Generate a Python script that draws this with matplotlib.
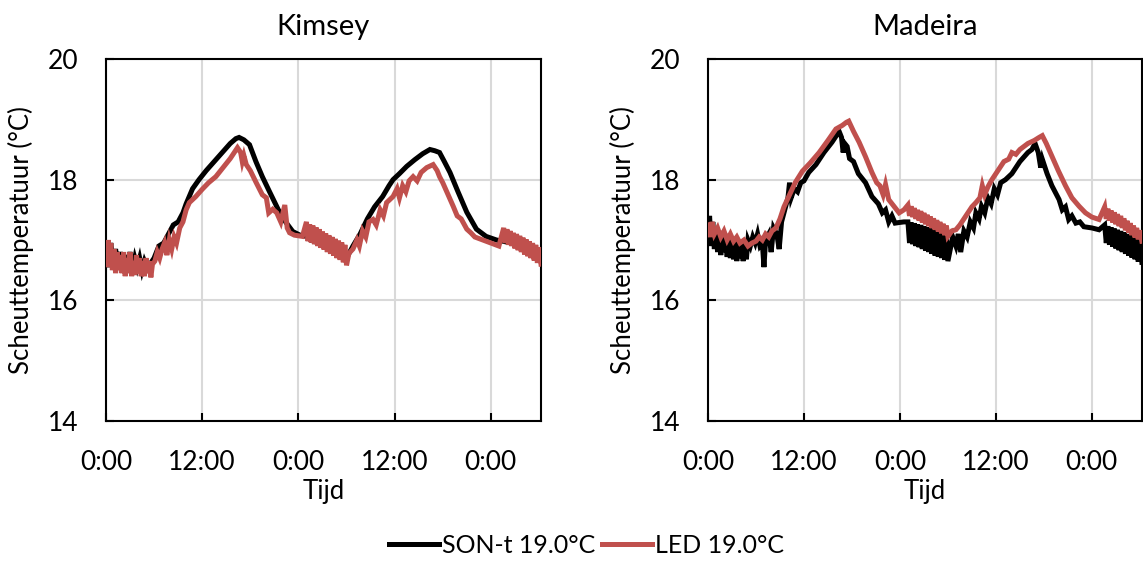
import numpy as np
import matplotlib
matplotlib.use("Agg")
import matplotlib.pyplot as plt

plt.rcParams['font.family'] = ['Lato', 'DejaVu Sans']

panel_titles = ["Kimsey", "Madeira"]
series_labels = ["SON-t 19.0°C", "LED 19.0°C"]
tick_hours = [0, 12, 24, 36, 48]
tick_labels = ["0:00", "12:00", "0:00", "12:00", "0:00"]

# (hour, temperature) pairs
kimsey_son = [
    (0.0, 16.85), (0.3, 16.55), (0.6, 16.95), (0.9, 16.6), (1.2, 16.85), (1.5, 16.55),
    (1.8, 16.8), (2.1, 16.5), (2.4, 16.75), (2.7, 16.55), (3.0, 16.8), (3.3, 16.5),
    (3.6, 16.7), (3.9, 16.55), (4.2, 16.7), (4.5, 16.5), (4.8, 16.65), (5.1, 16.55),
    (5.5, 16.6), (6.0, 16.7), (6.6, 16.9), (7.2, 16.95), (7.8, 17.1), (8.4, 17.25),
    (9.0, 17.3), (9.6, 17.45), (10.0, 17.6), (10.8, 17.85), (11.6, 18.0), (12.5, 18.15),
    (13.5, 18.3), (14.5, 18.45), (15.5, 18.6), (16.2, 18.68), (16.6, 18.7), (17.2, 18.66),
    (17.9, 18.58), (18.7, 18.3), (19.5, 18.05), (20.4, 17.8), (21.5, 17.5), (22.4, 17.3),
    (23.3, 17.14), (24.2, 17.08), (25.0, 17.06), (25.5, 17.0), (26.5, 16.95), (27.5, 16.88),
    (28.5, 16.8), (29.5, 16.72), (30.0, 16.7), (30.8, 16.9), (31.7, 17.1), (32.6, 17.35),
    (33.5, 17.55), (34.5, 17.72), (35.3, 17.9), (35.8, 18.0), (36.6, 18.1), (37.5, 18.22),
    (38.5, 18.33), (39.5, 18.43), (40.4, 18.5), (41.0, 18.48), (41.6, 18.45), (42.2, 18.3),
    (42.9, 18.12), (43.9, 17.8), (45.0, 17.46), (46.2, 17.18), (47.4, 17.06), (48.7, 17.0),
    (49.5, 16.98), (50.5, 16.95), (51.5, 16.9), (52.5, 16.82), (53.5, 16.75), (54.25, 16.7),
]

kimsey_led = [
    (0.0, 16.75), (0.15, 16.55), (0.3, 17.0), (0.45, 16.6), (0.6, 16.95), (0.8, 16.5),
    (1.0, 16.85), (1.2, 16.45), (1.4, 16.8), (1.6, 16.5), (1.8, 16.75), (2.0, 16.45),
    (2.2, 16.8), (2.4, 16.4), (2.6, 16.7), (2.8, 16.45), (3.0, 16.8), (3.2, 16.4),
    (3.4, 16.65), (3.6, 16.42), (3.8, 16.75), (4.0, 16.45), (4.2, 16.7), (4.4, 16.4),
    (4.6, 16.65), (4.8, 16.4), (5.0, 16.7), (5.2, 16.45), (5.4, 16.65), (5.6, 16.38),
    (5.8, 16.6), (6.1, 16.65), (6.4, 16.8), (6.7, 16.7), (7.0, 16.85), (7.3, 16.95),
    (7.6, 16.75), (7.9, 17.0), (8.2, 16.85), (8.5, 17.05), (8.8, 16.95), (9.2, 17.2),
    (9.6, 17.3), (10.0, 17.5), (10.4, 17.62), (11.2, 17.72), (12.0, 17.84), (12.8, 17.95),
    (13.7, 18.05), (14.6, 18.2), (15.5, 18.35), (16.0, 18.45), (16.4, 18.53), (16.8, 18.45),
    (17.0, 18.3), (17.2, 18.4), (17.5, 18.25), (18.0, 18.15), (18.7, 17.96), (19.5, 17.75),
    (20.0, 17.7), (20.3, 17.45), (20.8, 17.51), (21.3, 17.45), (21.8, 17.3), (22.3, 17.58),
    (22.6, 17.2), (22.9, 17.12), (23.5, 17.08), (24.5, 17.06),
    (25.0, 17.30), (25.2, 16.98), (25.4, 17.26), (25.6, 16.96), (25.8, 17.24), (26.0, 16.93),
    (26.2, 17.21), (26.4, 16.90), (26.6, 17.18), (26.8, 16.87), (27.0, 17.14), (27.2, 16.84),
    (27.4, 17.11), (27.6, 16.80), (27.8, 17.08), (28.0, 16.77), (28.2, 17.05), (28.4, 16.74),
    (28.6, 17.02), (28.8, 16.70), (29.0, 16.99), (29.2, 16.67), (29.4, 16.96), (29.6, 16.63),
    (29.8, 16.92), (30.0, 16.58),
    (30.3, 16.78), (30.8, 16.85), (31.3, 17.0), (31.6, 16.9), (32.0, 17.15), (32.4, 17.05),
    (32.8, 17.3), (33.3, 17.34), (33.7, 17.25), (34.2, 17.5), (34.6, 17.4), (35.0, 17.62),
    (35.8, 17.72), (36.3, 17.85), (36.6, 17.7), (37.0, 17.9), (37.4, 17.8), (37.8, 17.98),
    (38.3, 18.05), (38.8, 17.98), (39.3, 18.12), (40.0, 18.2), (40.8, 18.25), (41.3, 18.15),
    (41.6, 18.05), (42.0, 17.95), (42.5, 17.8), (43.0, 17.65), (43.3, 17.56), (43.8, 17.4),
    (44.3, 17.35), (45.0, 17.18), (45.5, 17.12), (46.0, 17.05), (47.0, 17.0), (48.0, 16.95),
    (49.0, 16.9),
    (49.6, 17.20), (49.8, 16.95), (50.0, 17.18), (50.2, 16.92), (50.4, 17.15), (50.6, 16.90),
    (50.8, 17.12), (51.0, 16.86), (51.2, 17.10), (51.4, 16.83), (51.6, 17.07), (51.8, 16.80),
    (52.0, 17.04), (52.2, 16.76), (52.4, 17.01), (52.6, 16.73), (52.8, 16.98), (53.0, 16.70),
    (53.2, 16.95), (53.4, 16.66), (53.6, 16.92), (53.8, 16.62), (54.0, 16.88), (54.25, 16.6),
]

madeira_son = [
    (0.0, 17.0), (0.2, 17.4), (0.4, 16.9), (0.6, 17.3), (0.8, 16.85), (1.0, 17.2),
    (1.2, 16.8), (1.4, 17.15), (1.6, 16.75), (1.8, 17.1), (2.0, 16.8), (2.2, 17.05),
    (2.4, 16.72), (2.6, 17.1), (2.8, 16.7), (3.0, 17.0), (3.2, 16.68), (3.4, 17.05),
    (3.6, 16.65), (3.8, 17.0), (4.0, 16.7), (4.2, 16.95), (4.4, 16.65), (4.6, 16.95),
    (4.8, 16.68), (5.0, 17.0), (5.3, 16.9), (5.6, 17.05), (5.9, 16.95), (6.2, 17.1),
    (6.5, 16.9), (6.8, 16.95), (7.0, 16.55), (7.2, 17.0), (7.6, 17.1), (7.9, 16.8),
    (8.2, 17.2), (8.6, 17.1), (8.9, 16.85), (9.2, 17.3), (9.6, 17.5), (10.0, 17.7),
    (10.2, 17.95), (10.4, 17.7), (10.8, 17.85), (11.2, 17.8), (11.6, 17.95), (12.0, 17.98),
    (12.6, 18.12), (13.5, 18.25), (14.5, 18.45), (15.5, 18.62), (16.0, 18.72), (16.4, 18.8),
    (16.7, 18.7), (16.9, 18.45), (17.1, 18.6), (17.4, 18.55), (17.7, 18.35), (18.2, 18.3),
    (18.8, 18.1), (19.7, 17.95), (20.5, 17.72), (21.3, 17.6), (21.8, 17.45), (22.2, 17.5),
    (22.6, 17.3), (23.0, 17.4), (23.4, 17.28), (23.9, 17.29), (24.5, 17.3),
    (25.0, 17.30), (25.2, 16.95), (25.4, 17.29), (25.6, 16.93), (25.8, 17.28), (26.0, 16.90),
    (26.2, 17.26), (26.4, 16.88), (26.6, 17.25), (26.8, 16.85), (27.0, 17.23), (27.2, 16.82),
    (27.4, 17.21), (27.6, 16.80), (27.8, 17.19), (28.0, 16.77), (28.2, 17.17), (28.4, 16.74),
    (28.6, 17.15), (28.8, 16.72), (29.0, 17.14), (29.2, 16.70), (29.4, 17.12), (29.6, 16.67),
    (29.8, 17.10), (30.0, 16.65),
    (30.3, 16.85), (30.6, 17.05), (31.0, 16.9), (31.3, 17.1), (31.6, 16.8), (32.0, 17.15),
    (32.4, 17.05), (32.8, 17.3), (33.2, 17.2), (33.5, 17.45), (33.9, 17.35), (34.2, 17.56),
    (34.6, 17.45), (35.0, 17.7), (35.4, 17.6), (35.8, 17.85), (36.2, 17.75), (36.6, 17.95),
    (37.2, 18.0), (38.0, 18.1), (39.0, 18.3), (40.0, 18.45), (40.5, 18.5), (40.9, 18.6),
    (41.3, 18.45), (41.6, 18.2), (41.8, 18.34), (42.4, 18.1), (43.0, 17.9), (43.9, 17.67),
    (44.3, 17.5), (44.7, 17.55), (45.1, 17.34), (45.5, 17.4), (46.0, 17.28), (46.5, 17.3),
    (47.0, 17.22), (48.0, 17.2), (48.9, 17.17),
    (49.6, 17.25), (49.8, 16.95), (50.0, 17.23), (50.2, 16.92), (50.4, 17.21), (50.6, 16.89),
    (50.8, 17.19), (51.0, 16.86), (51.2, 17.17), (51.4, 16.83), (51.6, 17.15), (51.8, 16.80),
    (52.0, 17.13), (52.2, 16.77), (52.4, 17.10), (52.6, 16.74), (52.8, 17.08), (53.0, 16.71),
    (53.2, 17.05), (53.4, 16.68), (53.6, 17.03), (53.8, 16.64), (54.0, 17.00), (54.25, 16.63),
]

madeira_led = [
    (0.0, 17.25), (0.3, 17.05), (0.5, 17.3), (0.8, 17.1), (1.2, 17.2), (1.6, 17.05),
    (2.0, 17.15), (2.4, 17.0), (2.8, 17.1), (3.2, 16.98), (3.6, 17.05), (4.0, 16.95),
    (4.5, 17.0), (5.0, 16.9), (5.5, 16.95), (6.0, 16.98), (6.4, 17.05), (6.8, 17.0),
    (7.2, 17.1), (7.6, 17.05), (8.0, 17.15), (8.5, 17.2), (9.0, 17.35), (9.5, 17.55),
    (10.1, 17.72), (10.9, 17.95), (11.8, 18.14), (12.8, 18.28), (13.9, 18.45), (15.0, 18.65),
    (16.0, 18.84), (16.8, 18.9), (17.3, 18.95), (17.6, 18.97), (18.2, 18.8), (18.9, 18.62),
    (19.7, 18.38), (20.5, 18.12), (21.1, 17.95), (21.5, 17.9), (21.9, 17.75), (22.2, 17.92),
    (22.6, 17.67), (23.3, 17.55), (23.9, 17.45), (24.5, 17.5),
    (25.0, 17.58), (25.2, 17.40), (25.4, 17.56), (25.6, 17.38), (25.8, 17.53), (26.0, 17.35),
    (26.2, 17.50), (26.4, 17.32), (26.6, 17.48), (26.8, 17.29), (27.0, 17.45), (27.2, 17.26),
    (27.4, 17.42), (27.6, 17.23), (27.8, 17.39), (28.0, 17.20), (28.2, 17.36), (28.4, 17.17),
    (28.6, 17.33), (28.8, 17.14), (29.0, 17.30), (29.2, 17.11), (29.4, 17.27), (29.6, 17.08),
    (29.8, 17.24), (30.0, 17.06),
    (30.5, 17.15), (31.0, 17.17), (31.5, 17.25), (32.0, 17.35), (32.5, 17.45), (33.0, 17.55),
    (33.5, 17.62), (34.0, 17.7), (34.3, 17.9), (34.6, 17.75), (35.0, 17.88), (35.5, 18.0),
    (36.0, 18.1), (36.5, 18.2), (37.0, 18.3), (37.6, 18.34), (38.0, 18.45), (38.5, 18.42),
    (39.0, 18.5), (39.5, 18.55), (40.0, 18.6), (40.8, 18.65), (41.4, 18.7), (41.8, 18.73),
    (42.3, 18.6), (43.0, 18.39), (43.8, 18.15), (44.7, 17.9), (45.5, 17.7), (46.4, 17.56),
    (47.2, 17.45), (48.0, 17.38), (48.9, 17.34),
    (49.6, 17.55), (49.8, 17.35), (50.0, 17.52), (50.2, 17.32), (50.4, 17.49), (50.6, 17.29),
    (50.8, 17.46), (51.0, 17.26), (51.2, 17.43), (51.4, 17.23), (51.6, 17.40), (51.8, 17.20),
    (52.0, 17.36), (52.2, 17.16), (52.4, 17.32), (52.6, 17.12), (52.8, 17.28), (53.0, 17.08),
    (53.2, 17.24), (53.4, 17.04), (53.6, 17.20), (53.8, 17.01), (54.0, 17.16), (54.25, 16.98),
]

panels = [(kimsey_son, kimsey_led), (madeira_son, madeira_led)]
colors = ["#000000", "#C0504D"]

fig = plt.figure(figsize=(11.43, 5.62), dpi=100)
axes_pos = [[0.0927, 0.2509, 0.3806, 0.6441], [0.6194, 0.2509, 0.3796, 0.6441]]

handles = []
for i, (title, (son, led)) in enumerate(zip(panel_titles, panels)):
    ax = fig.add_axes(axes_pos[i])
    for j, s in enumerate([son, led]):
        arr = np.array(s)
        ln, = ax.plot(arr[:, 0], arr[:, 1], color=colors[j], lw=3.6,
                      solid_joinstyle='miter', label=series_labels[j], zorder=3 + j)
        if i == 0:
            handles.append(ln)
    ax.set_xlim(0, 54.25)
    ax.set_ylim(14, 20)
    ax.set_yticks([14, 16, 18, 20])
    ax.set_xticks(tick_hours)
    ax.set_xticklabels(tick_labels)
    ax.grid(True, color="#D9D9D9", lw=1.5, zorder=0)
    ax.tick_params(direction='in', length=6, width=1.5, labelsize=19, color='black')
    ax.tick_params(axis='x', pad=21)
    ax.tick_params(axis='y', pad=20)
    for sp in ax.spines.values():
        sp.set_linewidth(1.5)
        sp.set_color('black')
    ax.set_title(title, fontsize=21, pad=17)
    ax.set_xlabel("Tijd", fontsize=18.5, labelpad=3)
    ax.set_ylabel("Scheuttemperatuur (°C)", fontsize=18.5, labelpad=10)

fig.legend(handles=handles, labels=series_labels, loc='center',
           bbox_to_anchor=(0.513, 0.03), ncol=2, frameon=False, fontsize=18,
           handlelength=2.0, handletextpad=0.12, columnspacing=0.25,
           borderpad=0.1)

fig.savefig("out.png", dpi=100)
